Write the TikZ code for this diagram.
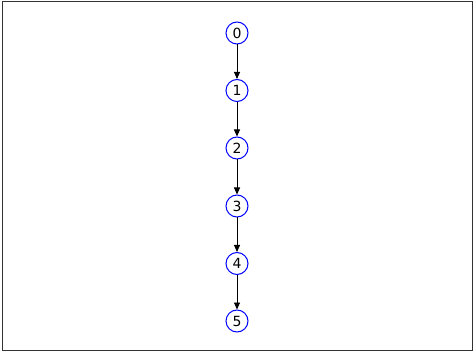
\documentclass[tikz,border=0pt]{standalone}
\usepackage{fontspec}
\setmainfont{DejaVu Sans}
\usetikzlibrary{arrows.meta}
\begin{document}
\begin{tikzpicture}[x=1pt,y=-1pt,
  vtx/.style={circle,draw=blue,line width=1pt,minimum size=22pt,inner sep=0pt,font=\fontsize{14}{14}\selectfont,text=black},
  edge/.style={-{Triangle[length=7pt,width=6pt]},line width=0.9pt,black}]
\useasboundingbox (0,0) rectangle (473,352);
\draw[line width=1pt,black!80] (2,2) rectangle (472,350);
\node[vtx] (n0) at (237,33) {0};
\node[vtx] (n1) at (237,90.5) {1};
\node[vtx] (n2) at (237,148) {2};
\node[vtx] (n3) at (237,206) {3};
\node[vtx] (n4) at (237,263.5) {4};
\node[vtx] (n5) at (237,321) {5};
\draw[edge] (n0) -- (n1);
\draw[edge] (n1) -- (n2);
\draw[edge] (n2) -- (n3);
\draw[edge] (n3) -- (n4);
\draw[edge] (n4) -- (n5);
\end{tikzpicture}
\end{document}
